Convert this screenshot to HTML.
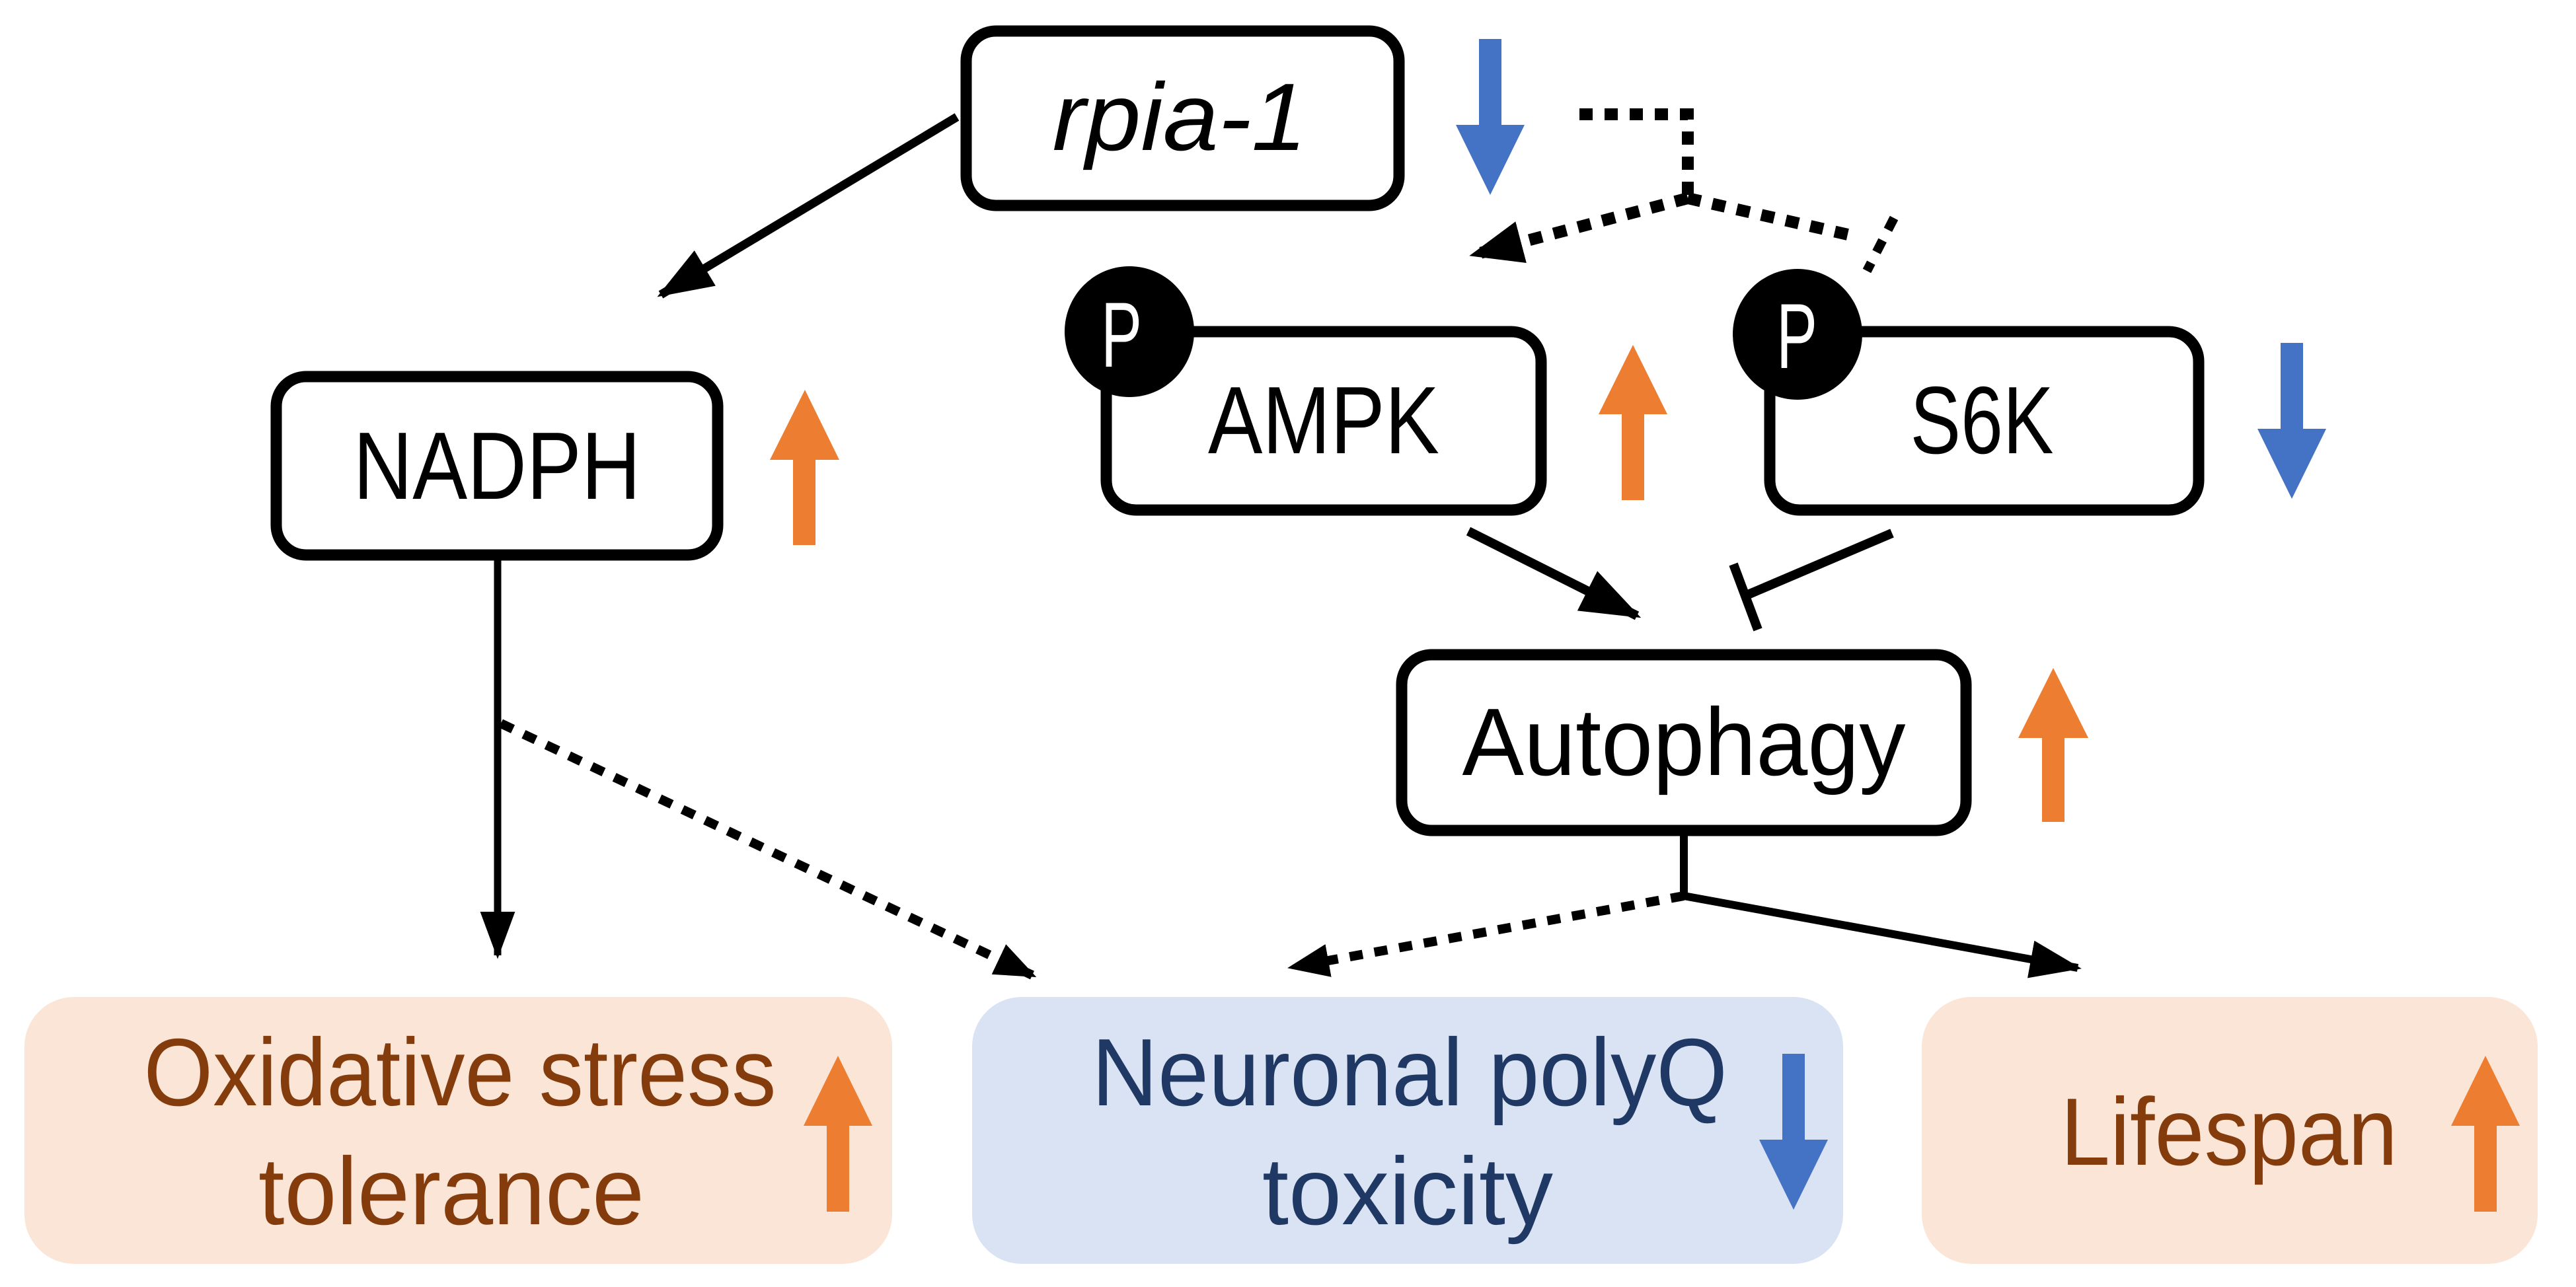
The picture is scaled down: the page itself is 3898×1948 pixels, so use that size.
<!DOCTYPE html>
<html><head><meta charset="utf-8"><style>
html,body{margin:0;padding:0;background:#fff;}
svg{display:block;}
text{font-family:"Liberation Sans",sans-serif;}
</style></head><body>
<svg width="3898" height="1948" viewBox="0 0 3898 1948" xmlns="http://www.w3.org/2000/svg">
<defs>
<marker id="ah" markerWidth="7" markerHeight="6" refX="6" refY="3" orient="auto" markerUnits="strokeWidth"><path d="M0,0.6 L6.5,3 L0,5.4 Z" fill="#000"/></marker>
<marker id="ahd" markerWidth="5" markerHeight="4" refX="4" refY="2" orient="auto" markerUnits="strokeWidth"><path d="M0,0.2 L4.5,2 L0,3.8 Z" fill="#000"/></marker>
</defs>

<rect x="37" y="1509" width="1313" height="404" rx="75" fill="#fbe5d6"/>
<rect x="1471" y="1509" width="1318" height="404" rx="75" fill="#dae3f3"/>
<rect x="2908" y="1509" width="932" height="404" rx="75" fill="#fbe5d6"/>

<rect x="1462" y="47" width="655" height="264" rx="45" fill="#fff" stroke="#000" stroke-width="17"/>
<rect x="418" y="570" width="668" height="270" rx="45" fill="#fff" stroke="#000" stroke-width="17"/>
<rect x="1674" y="502" width="658" height="270" rx="45" fill="#fff" stroke="#000" stroke-width="17"/>
<rect x="2678" y="502" width="649" height="270" rx="45" fill="#fff" stroke="#000" stroke-width="17"/>
<rect x="2121" y="991" width="854" height="266" rx="45" fill="#fff" stroke="#000" stroke-width="17"/>

<ellipse cx="1709" cy="502" rx="98" ry="99" fill="#000"/>
<ellipse cx="2720" cy="506" rx="98" ry="99" fill="#000"/>
<text x="1697" y="555" font-size="140" fill="#fff" text-anchor="middle" textLength="62" lengthAdjust="spacingAndGlyphs">P</text>
<text x="2719" y="557" font-size="140" fill="#fff" text-anchor="middle" textLength="62" lengthAdjust="spacingAndGlyphs">P</text>

<text x="1785" y="227" font-size="145" font-style="italic" text-anchor="middle" textLength="385" lengthAdjust="spacingAndGlyphs">rpia-1</text>
<text x="752" y="755" font-size="145" text-anchor="middle" textLength="435" lengthAdjust="spacingAndGlyphs">NADPH</text>
<text x="2003" y="686" font-size="145" text-anchor="middle" textLength="350" lengthAdjust="spacingAndGlyphs">AMPK</text>
<text x="2999" y="686" font-size="145" text-anchor="middle" textLength="217" lengthAdjust="spacingAndGlyphs">S6K</text>
<text x="2548" y="1173" font-size="145" text-anchor="middle" textLength="671" lengthAdjust="spacingAndGlyphs">Autophagy</text>

<g fill="#843c0c" font-size="145" text-anchor="middle">
<text x="696" y="1673" textLength="957" lengthAdjust="spacingAndGlyphs">Oxidative stress</text>
<text x="683" y="1853" textLength="584" lengthAdjust="spacingAndGlyphs">tolerance</text>
<text x="3373" y="1763" textLength="510" lengthAdjust="spacingAndGlyphs">Lifespan</text>
</g>
<g fill="#1f3864" font-size="145" text-anchor="middle">
<text x="2133" y="1673" textLength="962" lengthAdjust="spacingAndGlyphs">Neuronal polyQ</text>
<text x="2130" y="1853" textLength="440" lengthAdjust="spacingAndGlyphs">toxicity</text>
</g>

<g fill="#ed7d31">
<path d="M1200,825 V696 H1165 L1218,590 L1270,696 H1234 V825 Z"/>
<path d="M2454,757 V627 H2419 L2471,522 L2523,627 H2488 V757 Z"/>
<path d="M3090,1244 V1117 H3054 L3107,1011 L3160,1117 H3124 V1244 Z"/>
<path d="M1251,1834 V1704 H1216 L1268,1598 L1320,1704 H1285 V1834 Z"/>
<path d="M3744,1834 V1704 H3709 L3761,1598 L3813,1704 H3778 V1834 Z"/>
</g>
<g fill="#4472c4">
<path d="M2238,59 V189 H2203 L2255,295 L2307,189 H2272 V59 Z"/>
<path d="M3451,519 V649 H3416 L3468,755 L3520,649 H3485 V519 Z"/>
<path d="M2697,1595 V1725 H2662 L2714,1831 L2766,1725 H2731 V1595 Z"/>
</g>

<g stroke="#000" fill="none">
<line x1="1448" y1="177" x2="1000" y2="446" stroke-width="13" marker-end="url(#ah)"/>
<line x1="753" y1="848" x2="753" y2="1446" stroke-width="11" marker-end="url(#ah)"/>
<line x1="2222" y1="804" x2="2477" y2="932" stroke-width="14" marker-end="url(#ah)"/>
<line x1="2863" y1="807" x2="2645" y2="900" stroke-width="14"/>
<line x1="2623" y1="854" x2="2660" y2="953" stroke-width="14"/>
<polyline points="2548,1257 2548,1356 3144,1465" stroke-width="12" marker-end="url(#ah)" stroke-linejoin="miter"/>
</g>

<g stroke="#000" fill="none" stroke-width="18" stroke-dasharray="20 18">
<polyline points="2390,173 2554,173 2554,300"/>
<line x1="2554" y1="300" x2="2232" y2="385" marker-end="url(#ahd)"/>
<line x1="2554" y1="300" x2="2805" y2="357"/>
<line x1="2866" y1="330" x2="2825" y2="410" stroke-width="14"/>
<line x1="758" y1="1095" x2="1562" y2="1476" stroke-width="14" marker-end="url(#ahd)"/>
<line x1="2548" y1="1356" x2="1955" y2="1464" stroke-width="14" marker-end="url(#ahd)"/>
</g>
</svg>
</body></html>
